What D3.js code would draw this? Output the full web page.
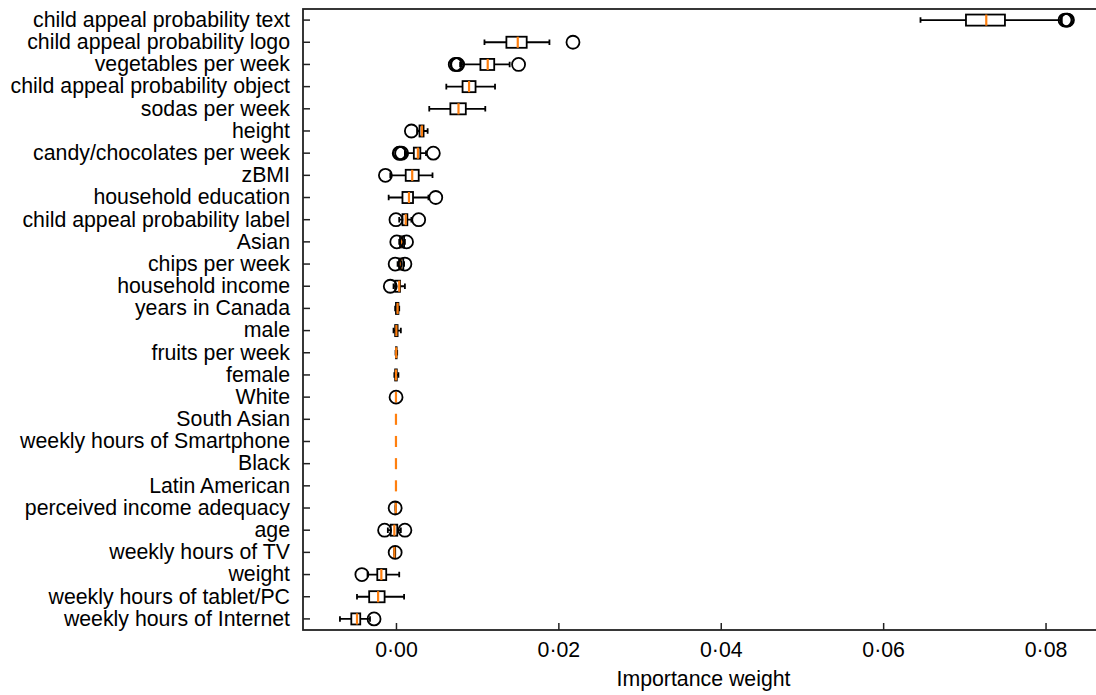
<!DOCTYPE html>
<html>
<head>
<meta charset="utf-8">
<script src="https://cdn.jsdelivr.net/npm/d3@7"></script>
<style>
  body { margin: 0; background: #fff; }
  svg { display: block; font-family: "Liberation Sans", Arial, sans-serif; }
</style>
</head>
<body>
<svg id="chart" width="1096" height="695"></svg>
<script>
// features, top to bottom
var features = [
  "child appeal probability text", "child appeal probability logo", "vegetables per week",
  "child appeal probability object", "sodas per week", "height", "candy/chocolates per week",
  "zBMI", "household education", "child appeal probability label", "Asian", "chips per week",
  "household income", "years in Canada", "male", "fruits per week", "female", "White",
  "South Asian", "weekly hours of Smartphone", "Black", "Latin American",
  "perceived income adequacy", "age", "weekly hours of TV", "weight",
  "weekly hours of tablet/PC", "weekly hours of Internet"
];

// box stats
var whiskerLow = [0.0646, 0.0109, 0.0079, 0.0062, 0.0041, 0.0026, 0.0011, -0.0007, -0.0009, 0.0004,
  0.0004, 0.0002, -0.0003, -0.0001, -0.0003, -0.00005, -0.0002, 0, 0, 0, 0, 0,
  -0.00005, -0.0010, -0.0002, -0.0035, -0.0048, -0.0069];
var q1 = [0.0702, 0.0136, 0.0104, 0.0082, 0.0067, 0.0029, 0.0022, 0.0012, 0.0008, 0.0008,
  0.0005, 0.0004, -0.0001, 0.0000, -0.0001, 0, -0.0001, 0, 0, 0, 0, 0,
  -0.00005, -0.00065, -0.0002, -0.0023, -0.0033, -0.0055];
var median = [0.0727, 0.0150, 0.0113, 0.0090, 0.0077, 0.0032, 0.0027, 0.0020, 0.0016, 0.0012,
  0.0007, 0.0006, 0.0004, 0.0002, 0.00005, 0.00003, 0, 0, 0, 0, 0, 0,
  -0.00002, -0.0002, -0.0002, -0.0018, -0.0022, -0.0048];
var q3 = [0.0750, 0.0161, 0.0121, 0.0098, 0.0086, 0.0034, 0.0030, 0.0028, 0.0021, 0.0014,
  0.0010, 0.0009, 0.0005, 0.0003, 0.0002, 0.00008, 0.0001, 0, 0, 0, 0, 0,
  0, 0.00016, -0.0001, -0.0012, -0.0014, -0.0044];
var whiskerHigh = [0.0820, 0.0189, 0.0140, 0.0122, 0.0110, 0.0039, 0.0037, 0.0045, 0.0040, 0.0019,
  0.0011, 0.0010, 0.0011, 0.0004, 0.0006, 0.00015, 0.0003, 0, 0, 0, 0, 0,
  0, 0.0006, -0.0001, 0.0004, 0.0010, -0.0032];
var outliers = [
  [0.0824, 0.0826, 0.0827], [0.0218], [0.0073, 0.0075, 0.0076, 0.0151], [], [], [0.0019],
  [0.0004, 0.0005, 0.0007, 0.0046], [-0.0013], [0.0049], [0.0000, 0.0028],
  [0.0001, 0.0013], [-0.0001, 0.0011], [-0.0007], [], [], [], [], [0.00001],
  [], [], [], [], [-0.0001], [-0.0014, 0.0011], [-0.0001], [-0.0042], [], [-0.0027]
];
var xTicks = [0, 0.02, 0.04, 0.06, 0.08];

var svg = d3.select("#chart");
var margin = {left: 303, top: 9, right: 1104, bottom: 630};

var x = d3.scaleLinear().domain([-0.01145, 0.0872]).range([margin.left, margin.right]);
var y = d3.scaleBand().domain(features).range([margin.top, margin.bottom]);
var yc = function(i) { return y(features[i]) + y.bandwidth() / 2; };
var boxH = y.bandwidth() * 0.5, capH = y.bandwidth() * 0.25;

var rows = features.map(function(f, i) {
  return {i: i, lo: whiskerLow[i], q1: q1[i], med: median[i], q3: q3[i], hi: whiskerHigh[i], out: outliers[i]};
});

var g = svg.append("g");

// whiskers
g.selectAll(".whisker").data(rows).enter().append("path")
  .attr("d", function(d) {
    return "M" + x(d.lo) + "," + yc(d.i) + "H" + x(d.q1) + "M" + x(d.q3) + "," + yc(d.i) + "H" + x(d.hi);
  })
  .attr("stroke", "#000").attr("stroke-width", 1.8).attr("fill", "none");

// caps
g.selectAll(".cap").data(rows).enter().append("path")
  .attr("d", function(d) {
    var c = yc(d.i);
    return "M" + x(d.lo) + "," + (c - capH / 2) + "V" + (c + capH / 2) +
      "M" + x(d.hi) + "," + (c - capH / 2) + "V" + (c + capH / 2);
  })
  .attr("stroke", "#000").attr("stroke-width", 1.8).attr("fill", "none");

// boxes
g.selectAll(".box").data(rows).enter().append("rect")
  .attr("x", function(d) { return x(d.q1); })
  .attr("y", function(d) { return yc(d.i) - boxH / 2; })
  .attr("width", function(d) { return x(d.q3) - x(d.q1); })
  .attr("height", boxH)
  .attr("fill", "none").attr("stroke", "#000").attr("stroke-width", 1.8);

// medians
g.selectAll(".median").data(rows).enter().append("line")
  .attr("x1", function(d) { return x(d.med); })
  .attr("x2", function(d) { return x(d.med); })
  .attr("y1", function(d) { return yc(d.i) - boxH / 2; })
  .attr("y2", function(d) { return yc(d.i) + boxH / 2; })
  .attr("stroke", "#ff7f0e").attr("stroke-width", 2.2);

// fliers
var fliers = [];
rows.forEach(function(d) { d.out.forEach(function(v) { fliers.push({i: d.i, v: v}); }); });
g.selectAll(".flier").data(fliers).enter().append("circle")
  .attr("cx", function(d) { return x(d.v); })
  .attr("cy", function(d) { return yc(d.i); })
  .attr("r", 6.5)
  .attr("fill", "none").attr("stroke", "#000").attr("stroke-width", 1.8);

// frame
svg.append("rect")
  .attr("x", margin.left).attr("y", margin.top)
  .attr("width", margin.right - margin.left).attr("height", margin.bottom - margin.top)
  .attr("fill", "none").attr("stroke", "#222").attr("stroke-width", 1.8);

// axes, ticks point inward
var fmt = function(v) { return d3.format(".2f")(v).replace(".", "\u00b7"); };
var xAxis = svg.append("g")
  .attr("transform", "translate(0," + margin.bottom + ")")
  .call(d3.axisBottom(x).tickValues(xTicks).tickFormat(fmt).tickSizeInner(-7).tickSizeOuter(0).tickPadding(12));
var yAxis = svg.append("g")
  .attr("transform", "translate(" + margin.left + ",0)")
  .call(d3.axisLeft(y).tickSizeInner(-7).tickSizeOuter(0).tickPadding(13));

[xAxis, yAxis].forEach(function(a) {
  a.select(".domain").remove();
  a.selectAll(".tick line").attr("stroke", "#222").attr("stroke-width", 1.5);
  a.selectAll(".tick text").attr("fill", "#000").style("font-size", "21.3px");
});

svg.append("text")
  .attr("x", (margin.left + margin.right) / 2)
  .attr("y", 686)
  .attr("text-anchor", "middle")
  .attr("fill", "#000")
  .style("font-size", "21.3px")
  .text("Importance weight");
</script>
</body>
</html>
